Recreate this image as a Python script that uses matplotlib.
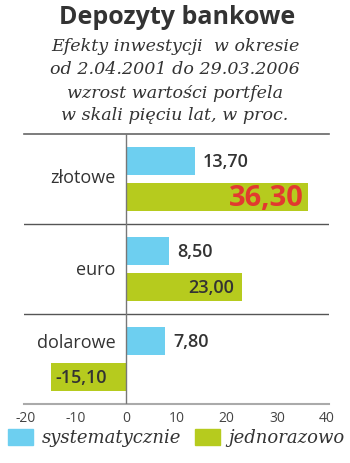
import matplotlib
matplotlib.use("Agg")
import matplotlib.pyplot as plt
from matplotlib.patches import Rectangle

# Data
categories = ["złotowe", "euro", "dolarowe"]
systematic = [13.70, 8.50, 7.80]
lump_sum = [36.30, 23.00, -15.10]
xticks = [-20, -10, 0, 10, 20, 30, 40]
legend_labels = ["systematycznie", "jednorazowo"]
title = "Depozyty bankowe"
subtitle = ["Efekty inwestycji  w okresie",
            "od 2.04.2001 do 29.03.2006",
            "wzrost wartości portfela",
            "w skali pięciu lat, w proc."]

BLUE = "#6dcff0"
GREEN = "#b6cb1e"
RED = "#e2392f"
DARK = "#333333"
SERIF = "DejaVu Serif"
SANS = "Open Sans"

W, H = 350, 464
fig = plt.figure(figsize=(W / 100, H / 100), dpi=100)
fig.patch.set_facecolor("white")

# axes span in pixels (vertical coordinates as pixel rows)
ax_left, ax_right, ax_top, ax_bottom = 24, 329, 135, 405
ax = fig.add_axes([ax_left / W, 1 - ax_bottom / H,
                   (ax_right - ax_left) / W, (ax_bottom - ax_top) / H])
ax.set_xlim(-20.4, 40.4)
ax.set_ylim(ax_bottom, ax_top)

group_centers = [180, 270, 360]
bar_h = 28
off = 18

for i, c in enumerate(group_centers):
    ax.barh(c - off, systematic[i], height=bar_h, color=BLUE, zorder=2)
    ax.barh(c + off, lump_sum[i], height=bar_h, color=GREEN, zorder=2)

# separators and axis lines
ax.axhline(ax_top, color="#666666", lw=1.2, zorder=3, clip_on=False)
for y in [225, 315]:
    ax.axhline(y, color="#555555", lw=1.0, zorder=3)
ax.axhline(ax_bottom, color="#aaaaaa", lw=1.5, zorder=3, clip_on=False)
ax.axvline(0, color="#777777", lw=1.0, zorder=3)

for s in ax.spines.values():
    s.set_visible(False)
ax.set_yticks([])
ax.set_xticks(xticks)
ax.set_xticklabels([str(t) for t in xticks], fontsize=10, color="#444444",
                   family=SANS)
ax.tick_params(axis="x", length=0, pad=4)

# category labels
label_y = [178, 270, 343]
for name, y in zip(categories, label_y):
    ax.text(-2.2, y, name, ha="right", va="center", fontsize=13,
            color=DARK, family=SANS)

# value labels
px = 60.8 / (ax_right - ax_left)  # data units per pixel
for i, c in enumerate(group_centers):
    v = systematic[i]
    ax.text(v + 8 * px, c - off, f"{v:.2f}".replace(".", ","), ha="left",
            va="center", fontsize=13, fontweight="semibold", color=DARK,
            family=SANS, zorder=4)
    g = lump_sum[i]
    txt = f"{g:.2f}".replace(".", ",")
    if g < 0:
        ax.text(g + 5 * px, c + off, txt, ha="left", va="center", fontsize=13,
                fontweight="semibold", color=DARK, family=SANS, zorder=4)
    elif i == 0:
        ax.text(g - 5 * px, c + off, txt, ha="right", va="center", fontsize=21,
                fontweight="bold", color=RED, family=SANS, zorder=4)
    else:
        ax.text(g - 8 * px, c + off, txt, ha="right", va="center", fontsize=13,
                fontweight="semibold", color=DARK, family=SANS, zorder=4)

# title and subtitle
fig.text(177 / W, 1 - 18 / H, title, ha="center", va="center", fontsize=18,
         fontweight="bold", color=DARK, family=SANS)
for k, line in enumerate(subtitle):
    fig.text(175 / W, 1 - (47 + 23 * k) / H, line, ha="center", va="center",
             fontsize=12.6, style="italic", color=DARK, family=SERIF)

# legend
fig.patches.append(Rectangle((8 / W, 1 - 446 / H), 25 / W, 16 / H,
                             transform=fig.transFigure, color=BLUE))
fig.text(42 / W, 1 - 438 / H, legend_labels[0], ha="left", va="center",
         fontsize=13, style="italic", color=DARK, family=SERIF)
fig.patches.append(Rectangle((195 / W, 1 - 446 / H), 25 / W, 16 / H,
                             transform=fig.transFigure, color=GREEN))
fig.text(228 / W, 1 - 438 / H, legend_labels[1], ha="left", va="center",
         fontsize=13, style="italic", color=DARK, family=SERIF)

fig.savefig("out.png", dpi=100)
